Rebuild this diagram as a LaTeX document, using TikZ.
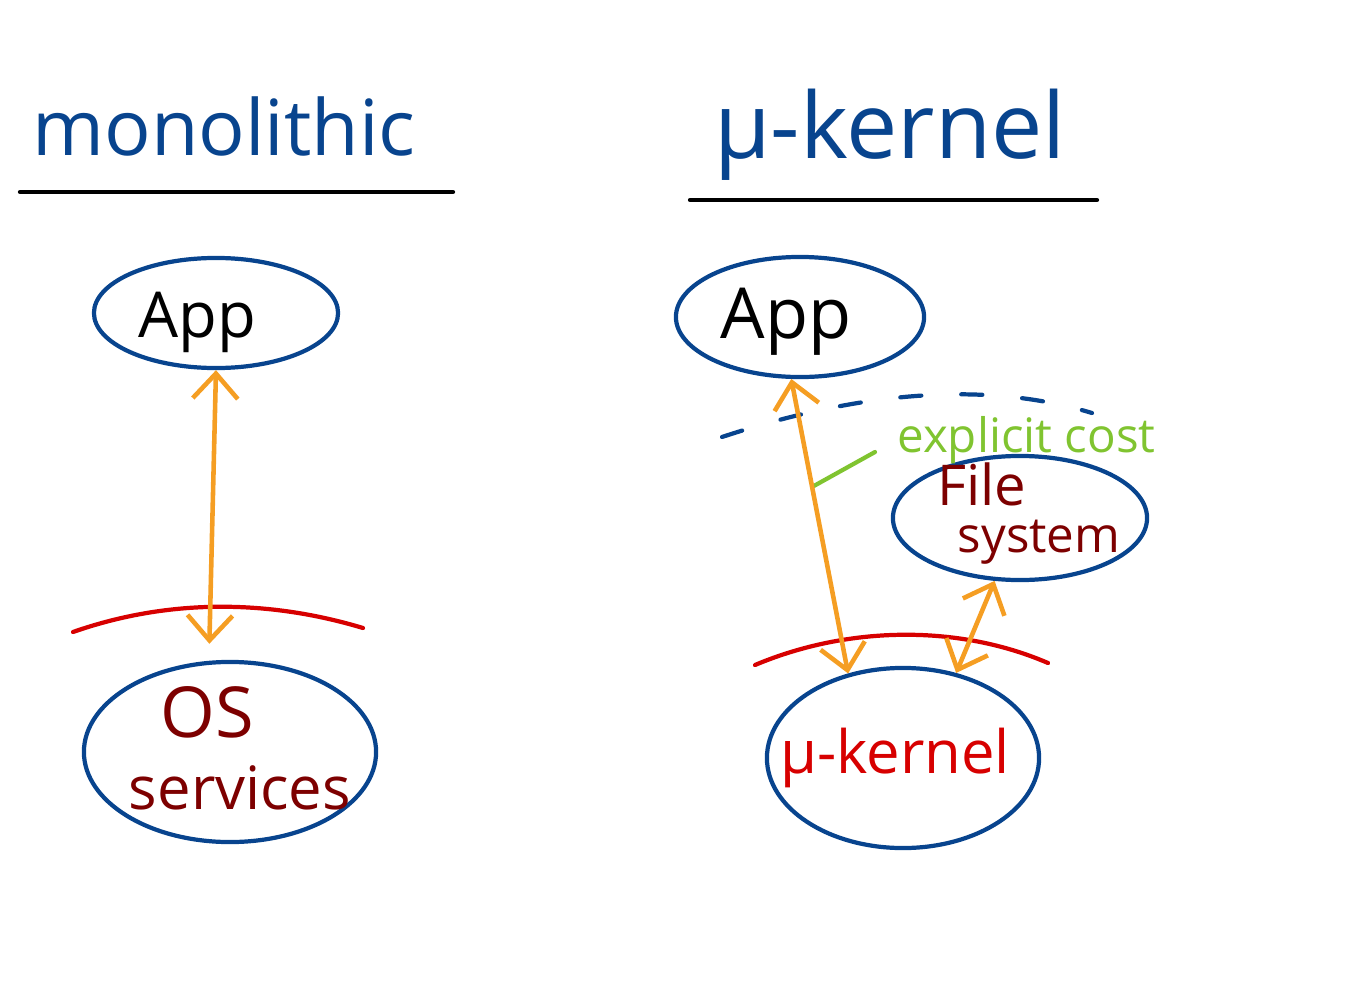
\documentclass[tikz,border=0pt]{standalone}
\usepackage{fontspec}
\setmainfont{Open Sans}
\usetikzlibrary{arrows.meta,shapes.geometric}
\definecolor{inkblue}{RGB}{8,68,142}
\definecolor{inkorange}{RGB}{245,158,35}
\definecolor{inkred}{RGB}{215,0,0}
\definecolor{inkbrown}{RGB}{125,0,0}
\definecolor{inkgreen}{RGB}{128,196,48}
\tikzset{
  bubble/.style={ellipse, draw=inkblue, line width=1.2pt, inner sep=0pt},
  ipc/.style={draw=inkorange, line width=1.3pt,
    {Straight Barb[length=2.5mm,width=4.5mm]}-{Straight Barb[length=2.5mm,width=4.5mm]}},
  boundary/.style={draw=inkred, line width=1.2pt},
}
\newcommand{\fsz}[1]{\fontsize{#1}{#1}\selectfont}

\begin{document}
\begin{tikzpicture}[x=0.01cm, y=-0.01cm, line cap=round]
  \useasboundingbox (0,0) rectangle (1372,1000);
  % headings
  \node[anchor=base, inkblue, font=\fsz{22}] (monotitle) at (224,155) {monolithic};
  \node[anchor=base, inkblue, font=\fsz{26}] (mutitle) at (890,158) {μ-kernel};
  \draw[line width=1.2pt] (20,192) -- (453,192);
  \draw[line width=1.2pt] (690,200) -- (1097,200);

  % monolithic
  \node[bubble, minimum width=2.44cm, minimum height=1.1cm] (lapp) at (216,313) {};
  \node[font=\fsz{18}] (lapptext) at (197,322) {App};
  \node[bubble, minimum width=2.92cm, minimum height=1.8cm] (los) at (230,752) {};
  \node[text=inkbrown, font=\fsz{20}] (ostext) at (207,712) {OS};
  \node[text=inkbrown, font=\fsz{17}] (svctext) at (240,788) {services};
  \draw[boundary] (73,632) .. controls (170,598) and (270,600) .. (363,628);
  \draw[ipc, shorten >=0.17cm] (lapp.south) -- (los.103);

  % micro-kernel
  \node[bubble, minimum width=2.48cm, minimum height=1.2cm] (rapp) at (800,317) {};
  \node[font=\fsz{20}] (rapptext) at (786,322) {App};
  \node[bubble, minimum width=2.54cm, minimum height=1.24cm] (fs) at (1020,518) {};
  \node[text=inkbrown, font=\fsz{16}] (filetext) at (982,484) {File};
  \node[text=inkbrown, font=\fsz{14}] (systext) at (1039,542) {system};
  \node[bubble, minimum width=2.72cm, minimum height=1.8cm] (rkern) at (903,758) {};
  \node[text=inkred, font=\fsz{17}] (rkerntext) at (895,758) {μ-kernel};
  \draw[boundary] (755,665) .. controls (850,625) and (960,625) .. (1048,663);
  \draw[inkblue, line width=1.2pt, dash pattern=on 6pt off 11.35pt]
    (722,437) .. controls (880,385) and (1000,385) .. (1092,413);
  \node[anchor=base west, inkgreen, font=\fsz{13.5}] (cost) at (885,452) {explicit cost};
  \coordinate (costtail) at (812,487);
  \draw[inkgreen, line width=1.2pt] (costtail) -- ([xshift=-1mm]cost.base west);
  \draw[ipc] (rapp.262) -- (rkern.123);
  \draw[ipc] (fs.248) -- (rkern.58);
\end{tikzpicture}
\end{document}
